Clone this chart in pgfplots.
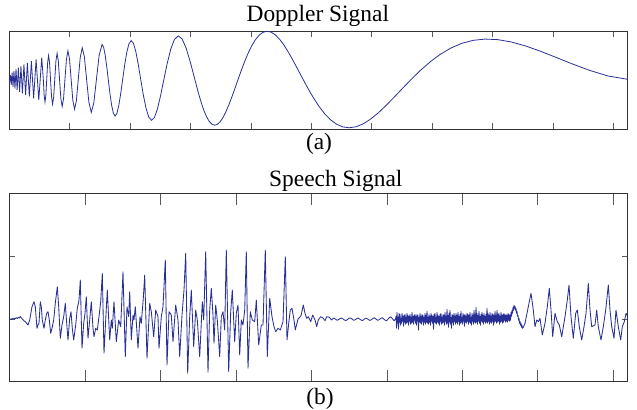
\documentclass[border=0pt]{standalone}
\usepackage{pgfplots}
\pgfplotsset{compat=1.18}
\usepackage{fontspec}
\setmainfont{Liberation Serif}
\definecolor{sigblue}{RGB}{40,48,150}
\newcommand{\capfont}{\fontsize{23.5}{26}\selectfont}

\begin{document}
\begin{tikzpicture}
\path[use as bounding box] (0,0) rectangle (637bp,410bp);

% ---------------- (a) Doppler signal, t in [0,1] ----------------
\begin{axis}[
  at={(9.3bp,281bp)}, anchor=south west,
  scale only axis, width=618.4bp, height=98bp,
  xmin=0, xmax=1, ymin=-0.51, ymax=0.496,
  xtick={0.0977,0.1953,0.2930,0.3906,0.4883,0.5859,0.6836,0.7813,0.8789,0.9766},
  ytick=\empty, xticklabels=\empty,
  tick align=inside, xtick pos=both,
  major tick length=6bp,
  axis line style={black!80, line width=0.8bp},
  tick style={black!65, line width=0.6bp},
  clip=false,
]
\addplot[sigblue, line width=0.8bp] coordinates {
(0,0)(0.000602,-0.0245)(0.00122,0)(0.001852,0.0430)(0.0025,0)(0.003165,-0.0562)
(0.003846,0)(0.004545,0.0673)(0.005263,0)(0.006,-0.0772)(0.006757,0)(0.007534,0.0865)
(0.008333,0)(0.009155,-0.0952)(0.01,0)(0.01087,0.1037)(0.011765,0)(0.012687,-0.1119)
(0.013636,0)(0.014615,0.1200)(0.015625,0)(0.016667,-0.1280)(0.017742,0)(0.018852,0.1360)
(0.02,0)(0.021186,-0.1440)(0.022414,0)(0.023684,0.1521)(0.025,0)(0.026364,-0.1602)
(0.027778,0)(0.029245,0.1685)(0.030769,0)(0.032353,-0.1769)(0.034,0)(0.035714,0.1856)
(0.0375,0)(0.039362,-0.1945)(0.041304,0)(0.043333,0.2036)(0.045455,0)(0.047674,-0.2131)
(0.05,0)(0.052439,0.2229)(0.055,0)
(0.056329,-0.1630)(0.057692,-0.2332)(0.059091,-0.1667)(0.060526,0)(0.062,0.1705)
(0.063514,0.2439)(0.065068,0.1744)(0.066667,0)(0.06831,-0.1784)(0.07,-0.2551)
(0.071739,-0.1825)(0.073529,0)(0.075373,0.1867)(0.077273,0.2670)(0.079231,0.1910)
(0.08125,0)(0.083333,-0.1954)(0.085484,-0.2796)(0.087705,-0.2000)(0.09,0)
(0.092373,0.2047)(0.094828,0.2930)(0.097368,0.2096)(0.1,0)(0.102727,-0.2147)
(0.105556,-0.3073)(0.108491,-0.2199)(0.111538,0)(0.114706,0.2253)(0.118,0.3226)
(0.121429,0.2310)(0.125,0)(0.128723,-0.2368)(0.132609,-0.3392)(0.136667,-0.2429)
(0.140909,0)(0.145349,0.2492)(0.15,0.3571)
(0.15241,0.3321)(0.154878,0.2558)(0.157407,0.1394)(0.16,0)(0.162658,-0.1412)
(0.165385,-0.2627)(0.168182,-0.3456)(0.171053,-0.3766)(0.174,-0.3503)(0.177027,-0.2699)
(0.180137,-0.1471)(0.183333,0)(0.18662,0.1491)(0.19,0.2774)(0.193478,0.3650)
(0.197059,0.3978)(0.200746,0.3701)(0.204545,0.2852)(0.208462,0.1555)(0.2125,0)
(0.216667,-0.1577)(0.220968,-0.2934)(0.22541,-0.3861)(0.23,-0.4208)(0.234746,-0.3916)
(0.239655,-0.3018)(0.244737,-0.1645)(0.25,0)(0.255455,0.1669)(0.261111,0.3106)
(0.266981,0.4087)(0.273077,0.4455)(0.279412,0.4146)(0.286,0.3195)(0.292857,0.1742)
(0.3,0)
(0.303684,-0.0897)(0.307447,-0.1766)(0.31129,-0.2572)(0.315217,-0.3285)(0.319231,-0.3876)
(0.323333,-0.4322)(0.327528,-0.4603)(0.331818,-0.4709)(0.336207,-0.4633)(0.340698,-0.4379)
(0.345294,-0.3953)(0.35,-0.3373)(0.354819,-0.2658)(0.359756,-0.1837)(0.364815,-0.0939)
(0.37,0)(0.375316,0.0945)(0.380769,0.1858)(0.386364,0.2705)(0.392105,0.3452)
(0.398,0.4070)(0.404054,0.4534)(0.410274,0.4824)(0.416667,0.4930)(0.423239,0.4846)
(0.43,0.4574)(0.436957,0.4124)(0.444118,0.3513)(0.451493,0.2765)(0.459091,0.1907)
(0.466923,0.0973)(0.475,0)(0.483333,-0.0975)(0.491935,-0.1913)(0.50082,-0.2778)
(0.51,-0.3535)(0.519492,-0.4154)(0.52931,-0.4612)(0.539474,-0.4889)(0.55,-0.4975)
(0.560909,-0.4868)(0.572222,-0.4571)(0.583962,-0.4098)(0.596154,-0.3470)(0.608824,-0.2711)
(0.622,-0.1856)(0.635714,-0.0939)(0.65,0)(0.664894,0.0921)(0.680435,0.1785)
(0.696667,0.2554)(0.713636,0.3197)(0.731395,0.3685)(0.75,0.4001)(0.769512,0.4131)
(0.79,0.4073)(0.811538,0.3836)(0.834211,0.3436)(0.858108,0.2901)(0.883333,0.2270)
(0.91,0.1590)(0.938235,0.0921)(0.968182,0.0342)(1,0)
};
\end{axis}

% ---------------- (b) Speech signal ----------------
\begin{axis}[
  at={(9.3bp,28.3bp)}, anchor=south west,
  scale only axis, width=618.4bp, height=188.4bp,
  xmin=0.3, xmax=618.7, ymin=-62.4, ymax=126,
  xtick={75.8,151.3,226.8,302.3,377.8,453.2,528.7,604.2},
  ytick={0,62.6},
  xticklabels=\empty, yticklabels=\empty,
  tick align=inside, xtick pos=both, ytick pos=both,
  xtick style={/pgfplots/major tick length=12bp},
  ytick style={/pgfplots/major tick length=6bp},
  axis line style={black!80, line width=0.8bp},
  tick style={black!65, line width=0.6bp},
  clip=false,
]
\addplot[sigblue, line width=0.85bp, line join=round] coordinates {
(0.3,-0.7)(1.3,0.3)(2.3,-0.3)(3.3,0.8)(4.3,0.2)(5.3,1.2)(6.3,0.5)(7.3,1.5)(8.3,0.8)
(9.3,2)(10.3,1.2)(11.3,2.8)(12.3,1.5)(13.5,0)(15,-1.5)(16.5,-2.5)(18,-4.5)(19,-5.7)
(20.7,-0.7)(23,12.6)(25,17.6)(26.3,12.6)(28,-9)(29,-5.7)(30,-4)(31.3,17.6)(32.3,12.6)
(33.3,-0.7)(35,-9)(36.3,-0.7)(37.7,6)(39,7.6)(40.3,-0.7)(41.7,-14)(43,-9)(44.7,-0.7)
(46.3,16)(48.3,32.6)(49.7,12.6)(51.3,-19)(53,-5.7)(54.7,2.6)(56.3,16)(57.7,-4)(59,-20.7)
(60.7,1)(62,7.6)(63.3,-9)(64.7,-20.7)(66.7,-5.7)(68.3,11)(70,19.3)(71.3,39.3)(73,-29)
(74.7,-4)(76,6)(77.3,22.6)(79,-19)(80.7,-0.7)(82.3,17.6)(84,-9)(85,-17.4)(86.7,-9)
(88.3,-10.7)(90,2.6)(91.7,17.6)(93.3,46)(95,-34)(96.7,-0.7)(98.3,29.3)
(100.7,-20.7)(102.3,-0.7)(103.3,-9)(105,17.6)(107.3,-22.4)(109.7,-0.7)(111.7,-7.4)
(114,47.6)(116.3,-37.4)(118,12.6)(119.7,2.6)(120.7,27.6)(122.3,-20.7)(124,4.3)(125,-0.7)
(126.3,12.6)(129,-29)(131,2.6)(132.3,-4)(134.3,21)(135.7,44.3)(138,-39)(140.7,16)
(142.3,7.6)(144.7,-17.4)(146.7,9.3)(149,2.6)(150,-29)(152.3,2.6)(154,12.6)(156.3,59.3)
(158,-45.7)(160,7.6)(162.3,4.3)(164,-22.4)(166.7,14.3)(169,-0.7)(170.7,-37.4)(173,4.3)
(175,29.3)(176.7,66)(178.7,-54)(180.7,2.6)(182.3,29.3)(184.7,-27.4)(186.7,9.3)(188.3,-0.7)
(190.7,-37.4)(193.3,17.6)(194.7,-0.7)(196.7,67.6)(199,-53)
(200.7,9.3)(202.3,31)(204,4.3)(205,-24)(206.7,14.3)(208.3,-0.7)(210.7,-37.4)(212.3,2.6)
(214,7.6)(215.7,-10.7)(217.3,69.3)(219.7,-52.4)(221.7,7.6)(223.3,29.3)(225.7,-22.4)
(227.3,6)(229,14.3)(230.7,-35.7)(232.3,-0.7)(234,-5.7)(235.7,9.3)(237.3,67.6)(239,-49)
(241.3,7.6)(243.3,-0.7)(245.7,-2.4)(247.3,19.3)(249.7,-25.7)(252.3,-5.7)(254,-5.7)
(256.3,69.3)(258.3,-37.4)(260.7,21)(263,2.6)(265,-7.4)(266.7,-12.4)(269,-9)(271.3,-10.7)
(274,-2.4)(276.3,62.6)(278,-20.7)(279.7,-4)(281.3,9.3)(283,11)(285,-0.7)(286.3,-10.7)
(289,0.3)(290.7,2)(292,3.6)
(294.3,14.3)(296,6)(297.7,1)(299.3,2.6)(301.7,-2.4)(303.7,4.3)(306,-0.7)(307.7,-7.4)
(309.3,-0.7)(311.7,2.6)(314.3,1)(316,-1.4)(317.7,2.6)(320.3,2)(322.7,-0.7)
(323.5,0.3)(325,1.2)(326.5,0.2)(328,-1)(329.5,-0.3)(331,0.8)(332.5,1.3)(334,0.4)
(335.5,-0.8)(337,-1.2)(338.5,-0.2)(340,1)(341.5,1.4)(343,0.3)(344.5,-0.9)(346,-0.6)
(347.5,0.5)(349,1.2)(350.5,0.4)(352,-0.7)(353.5,-1.3)(355,-0.1)(356.5,1.1)(358,0.8)
(359.5,-0.4)(361,-1.1)(362.5,-0.3)(364,0.9)(365.5,1.5)(367,0.2)(368.5,-1)(370,-0.5)
(371.5,0.7)(373,1.6)(374.5,0.6)(376,-0.8)(377.5,-1.4)(379,0.2)(380.5,1.8)(382,2.4)
(383.5,0.5)(385,-1.5)(386.5,0.3)
(387,3)(387.5,-9)(388,7)(388.5,-4)(389,2)(389.5,-10)(390,6)(390.5,-3)(391,5)(391.5,-6)
(392,1)(392.5,-4)(393,6)(393.5,-2)(394,3)(394.5,-7)(395,4)(395.5,-3)(396,5)(396.5,-5)
(397,2)(397.5,-4)(398,6)(398.5,-3)(399,4)(399.5,-6)(400,3)(400.5,-2)(401,5)(401.5,-5)
(402,2)(402.5,-4)(403,7)(403.5,-3)(404,3)(404.5,-5)(405,4)(405.5,-1)(406,5)(406.5,-4)
(407,3)(407.5,-6)(408,5)(408.5,-2)(409,4)(409.5,-11)(410,2)(410.5,-3)(411,6)(411.5,-4)
(412,3)(412.5,-5)(413,5)(413.5,-2)(414,4)(414.5,-6)(415,2)(415.5,-3)(416,6)(416.5,-5)
(417,4)(417.5,-3)(418,8)(418.5,-4)(419,2)(419.5,-5)(420,5)(420.5,-3)(421,3)(421.5,-6)
(422,6)(422.5,-2)(423,4)(423.5,-4)(424,3)(424.5,-10)(425,5)(425.5,-3)(426,6)(426.5,-4)
(427,2)(427.5,-5)(428,7)(428.5,-3)(429,4)(429.5,-4)(430,3)(430.5,-6)(431,5)(431.5,-2)
(432,6)(432.5,-5)(433,2)(433.5,-4)(434,5)(434.5,-3)(435,4)(435.5,-6)(436,7)(436.5,-2)
(437,3)(437.5,-5)(438,10)(438.5,-4)(439,4)(439.5,-8)(440,6)(440.5,-3)(441,9)(441.5,-5)
(442,2)(442.5,-9)(443,5)(443.5,-3)(444,4)(444.5,-6)(445,6)(445.5,-2)(446,3)(446.5,-5)
(447,6)(447.5,-3)(448,4)(448.5,-5)(449,7)(449.5,-2)(450,3)(450.5,-6)(451,5)(451.5,-4)
(452,8)(452.5,-3)(453,2)(453.5,-5)(454,6)(454.5,-2)(455,4)(455.5,-7)(456,5)(456.5,-3)
(457,3)(457.5,-4)(458,6)(458.5,-2)(459,5)(459.5,-5)(460,4)(460.5,-3)(461,7)(461.5,-4)
(462,2)(462.5,-6)(463,6)(463.5,-2)(464,4)(464.5,-5)(465,9)(465.5,-3)(466,5)(466.5,-4)
(467,12)(467.5,-3)(468,6)(468.5,-5)(469,4)(469.5,-2)(470,8)(470.5,-4)(471,3)(471.5,-6)
(472,5)(472.5,-2)(473,7)(473.5,-3)(474,4)(474.5,-5)(475,6)(475.5,-2)(476,3)(476.5,-4)
(477,5)(477.5,-3)(478,11)(478.5,-4)(479,6)(479.5,-2)(480,4)(480.5,-5)(481,7)(481.5,-3)
(482,3)(482.5,-4)(483,6)(483.5,-2)(484,5)(484.5,-6)(485,4)(485.5,-3)(486,8)(486.5,-2)
(487,4)(487.5,-4)(488,9)(488.5,-3)(489,5)(489.5,-2)(490,6)(490.5,-5)(491,3)(491.5,-3)
(492,7)(492.5,-2)(493,4)(493.5,-4)(494,5)(494.5,-3)(495,6)(495.5,-1)(496,4)(496.5,-3)
(497,5)(497.5,-2)(498,4)(498.5,-3)(499,6)(499.5,-1)(500,5)(500.5,-2)(501,4)(501.5,-1)
(502,7)(502.5,3)(503,9)(503.5,6)(504,12)(504.5,9)(505,14)(505.5,11)
(506,13)(506.5,9)(507,11)(507.5,6)(508,8)(508.5,3)(509,4)(509.5,-1)(510,1)(510.5,-4)
(511,-2)(511.5,-6)(512,-4)(512.5,-8)(513,-6)(513.5,-9)
(514.3,-8)(516,-4)(519.3,12.6)(522,26)(524.3,9.3)(526,-7.4)(527.7,-0.7)(529.3,-2.4)
(531,1)(533.3,-15.7)(536,-4)(538.3,12.6)(540.3,31)(542,9.3)(543.7,-17.4)(546,6)
(548.3,-2.4)(550.3,-5.7)(552.7,-17.4)(556,2.6)(558.3,19.3)(560,34.3)(562,2.6)(564.3,-19)
(566.7,6)(568.3,9.3)(570.3,-7.4)(572.7,-20.7)(575,-7.4)(577,6)(579.3,36)(581,9.3)
(582.7,-7.4)(586,-5.7)(587.7,9.3)(589.3,-7.4)(592,-20.7)(594.3,-7.4)(596.7,9.3)(599.3,34.3)
(601,9.3)(602.7,-7.4)(605,-19)(607,9.3)(609.3,-7.4)(611.7,-20.7)(613.3,-7.4)(615.3,-2.4)
(617,6)(618.7,3)
};
\end{axis}

% captions
\node[anchor=base, font=\capfont] at (317.8bp,388.3bp) {Doppler Signal};
\node[anchor=base, font=\capfont] at (319bp,260.7bp) {(a)};
\node[anchor=base, font=\capfont] at (335.8bp,223.4bp) {Speech Signal};
\node[anchor=base, font=\capfont] at (320bp,6bp) {(b)};
\end{tikzpicture}
\end{document}
